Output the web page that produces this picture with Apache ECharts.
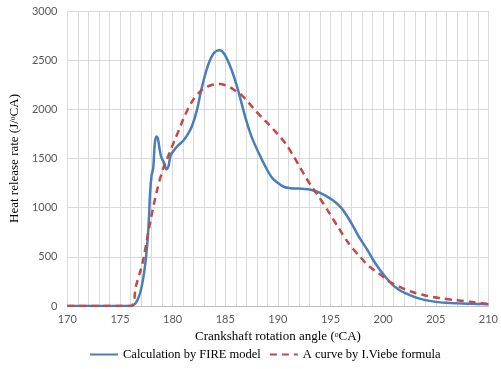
<!DOCTYPE html>
<html>
<head>
<meta charset="utf-8">
<script src="https://cdn.jsdelivr.net/npm/echarts@6/dist/echarts.min.js"></script>
<style>
  html, body { margin: 0; padding: 0; background: #fff; }
  #chart { width: 501px; height: 369px; }
</style>
</head>
<body>
<div id="chart"></div>
<script>
// FIRE model (blue solid)
const fireAngle = [170, 176, 176.3, 176.6, 176.9, 177.2, 177.4, 177.6, 177.75, 177.85, 178.0, 178.15, 178.3, 178.45, 178.6, 178.75, 178.9, 179.2, 179.4, 179.6, 179.8, 180.1, 180.5, 181.0, 181.4, 181.8, 182.3, 182.7, 183.3, 183.9, 184.45, 184.95, 185.6, 186.2, 186.9, 187.5, 188.2, 188.8, 189.4, 190.0, 190.6, 191.2, 191.8, 192.5, 193.3, 194.0, 194.8, 195.4, 196.0, 196.6, 197.2, 197.8, 198.5, 199.1, 199.7, 200.3, 200.9, 201.5, 202.1, 203.0, 203.9, 205, 206, 207, 208, 209, 210];
const fireRate = [0, 0, 10, 50, 130, 280, 434, 650, 900, 1149, 1330, 1400, 1650, 1725, 1700, 1600, 1520, 1450, 1390, 1420, 1530, 1580, 1630, 1680, 1740, 1820, 1990, 2190, 2430, 2570, 2600, 2555, 2400, 2200, 1920, 1720, 1550, 1420, 1310, 1250, 1210, 1198, 1195, 1190, 1178, 1150, 1105, 1060, 1000, 910, 800, 685, 570, 460, 365, 285, 215, 165, 130, 90, 62, 42, 33, 28, 24, 21, 18];

// I.Viebe formula (red dashed)
const viebeAngle = [170, 176, 176.5, 177, 177.2, 177.85, 178.45, 179.05, 179.7, 180.2, 180.6, 181, 181.5, 182, 182.5, 183, 183.5, 184, 184.5, 185, 185.5, 186, 186.6, 187.2, 187.8, 188.5, 189.1, 189.7, 190.3, 190.9, 191.5, 192.1, 192.7, 193.3, 193.9, 194.8, 195.7, 196.7, 197.8, 198.7, 199.6, 200.5, 201.5, 202.7, 203.9, 205.4, 206.9, 208.5, 210];
const viebeRate = [0, 0, 200, 380, 468, 844, 1149, 1383, 1556, 1690, 1790, 1900, 2014, 2105, 2170, 2215, 2240, 2255, 2258, 2245, 2220, 2185, 2140, 2070, 1995, 1915, 1850, 1780, 1710, 1625, 1520, 1410, 1300, 1200, 1110, 960, 805, 640, 500, 400, 330, 255, 197, 145, 110, 80, 60, 40, 20];

const seriesNames = ["Calculation by FIRE model", "A curve by I.Viebe formula"];

const pairs = (xs, ys) => xs.map((x, i) => [x, ys[i]]);
const gridColor = "#d9d9d9";
const serif = "Liberation Serif";

const chart = echarts.init(document.getElementById("chart"));
chart.setOption({
  animation: false,
  grid: { left: 57, right: 4, top: 11, bottom: 63 },
  legend: {
    data: seriesNames,
    left: 84,
    top: 343,
    itemWidth: 28,
    itemHeight: 14,
    itemGap: 8,
    itemStyle: { opacity: 0 },
    textStyle: { fontFamily: serif, fontSize: 12.5, color: "#000" }
  },
  xAxis: {
    type: "value",
    min: 170,
    max: 210,
    interval: 5,
    name: "Crankshaft rotation angle (\u1d52CA)",
    nameLocation: "middle",
    nameGap: 21,
    nameTextStyle: { fontFamily: serif, fontSize: 13, color: "#000" },
    axisLine: { lineStyle: { color: "#bfbfbf" } },
    axisTick: { show: false },
    axisLabel: { fontFamily: "Lato", fontSize: 11, color: "#595959", margin: 8 },
    splitLine: { show: true, lineStyle: { color: gridColor } },
    minorTick: { show: false, splitNumber: 5 },
    minorSplitLine: { show: true, lineStyle: { color: gridColor } }
  },
  yAxis: {
    type: "value",
    min: 0,
    max: 3000,
    interval: 500,
    name: "Heat release rate (J/\u1d52CA)",
    nameLocation: "middle",
    nameGap: 40,
    nameTextStyle: { fontFamily: serif, fontSize: 13, color: "#000" },
    axisLine: { show: true, lineStyle: { color: gridColor } },
    axisTick: { show: false },
    axisLabel: { fontFamily: "Lato", fontSize: 11, color: "#595959", margin: 10, formatter: v => String(v) },
    splitLine: { lineStyle: { color: gridColor } }
  },
  series: [
    {
      name: seriesNames[0],
      type: "line",
      data: pairs(fireAngle, fireRate),
      smooth: 0.3,
      symbol: "none",
      lineStyle: { color: "#4a7ebb", width: 2.5 },
      itemStyle: { color: "#4a7ebb" }
    },
    {
      name: seriesNames[1],
      type: "line",
      data: pairs(viebeAngle, viebeRate),
      smooth: 0.3,
      symbol: "none",
      lineStyle: { color: "#be4b48", width: 2.5, type: [7, 5] },
      itemStyle: { color: "#be4b48" }
    }
  ]
});
</script>
</body>
</html>
